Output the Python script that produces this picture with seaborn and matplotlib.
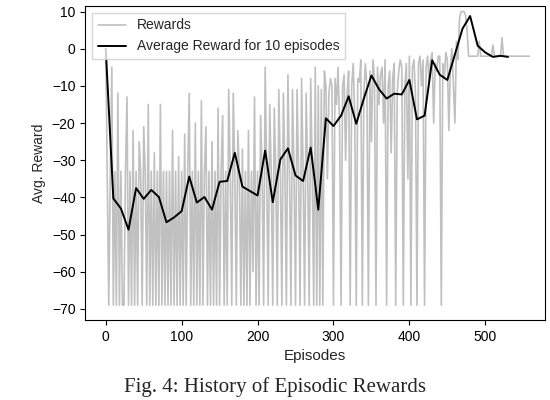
import numpy as np
import pandas as pd
import matplotlib
matplotlib.use("Agg")
import matplotlib.pyplot as plt
import seaborn as sns

# rewards, one value every 2 episodes
rewards = [
    0, -34, -69, -33, -5, -69, -33, -69, -12, -69,
    -33, -69, -69, -33, -13, -69, -33, -69, -22, -69,
    -33, -69, -25, -33, -69, -21, -33, -69, -15, -69,
    -33, -69, -28, -69, -33, -69, -15, -69, -33, -69,
    -33, -69, -33, -69, -22, -69, -33, -69, -29, -69,
    -33, -69, -23, -69, -33, -12, -69, -33, -69, -20,
    -69, -33, -69, -14, -69, -33, -21, -69, -33, -69,
    -25, -69, -33, -69, -16, -69, -33, -18, -69, -33,
    -69, -11, -33, -69, -12, -33, -69, -22, -33, -69,
    -27, -69, -33, -69, -22, -69, -33, -60, -13, -69,
    -33, -69, -18, -33, -69, -5, -33, -69, -15, -33,
    -69, -16, -33, -69, -11, -33, -69, -12, -33, -69,
    -7, -33, -69, -11, -33, -69, -11, -33, -69, -8,
    -33, -69, -12, -33, -69, -8, -33, -69, -5, -69,
    -10, -69, -11, -69, -6, -10, -35, -12, -8, -10,
    -69, -8, -15, -5, -20, -69, -10, -7, -30, -12,
    -6, -69, -10, -4, -18, -69, -8, -9, -3, -69,
    -12, -4, -10, -69, -6, -25, -3, -8, -69, -5,
    -15, -7, -5, -20, -3, -69, -10, -6, -28, -8,
    -4, -69, -12, -6, -3, -5, -69, -10, -4, -35,
    -2, -69, -5, -3, -12, -69, -4, -2, -10, -3,
    -69, -5, -2, -9, -3, -1, -20, -4, -6, -2,
    -2, -69, -4, -8, -1, -3, -22, -5, 0, -10,
    -20, 2, -3, 8, 10, 10, 10, 9, 5, -2,
    -2, -2, -2, -2, -2, -2, 2, -2, -2, -2,
    -2, -2, -2, -2, -2, 1, -2, -2, -2, -2,
    -2, 3, -2, -2, -2, -2, -2, -2, -2, -2,
    -2, -2, -2, -2, -2, -2, -2, -2, -2, -2,
]
reward_eps = np.arange(len(rewards)) * 2

# average over 10 episodes
avg_reward = [
    0, -40.3, -43, -48.7, -37.5, -40.4, -38, -39.9, -46.7, -45.4,
    -43.7, -34.4, -41.4, -39.9, -43.3, -35.8, -35.6, -28, -37.1, -38.3,
    -39.5, -27.4, -41.3, -29.8, -26.8, -34.1, -35.6, -26.6, -43.3, -18.7,
    -20.8, -18, -12.8, -20.2, -13.4, -7.2, -10.9, -13.4, -12.1, -12.3,
    -8.4, -19, -18, -3.1, -7, -8.4, -1.5, 5.4, 8.8, 0.8,
    -1, -2.2, -1.9, -2.2,
]
avg_eps = np.arange(len(avg_reward)) * 10

sns.set_style("ticks")
plt.rcParams['font.family'] = ['Liberation Sans', 'DejaVu Sans']
plt.rcParams['axes.edgecolor'] = 'black'
plt.rcParams['xtick.color'] = 'black'
plt.rcParams['ytick.color'] = 'black'

fig = plt.figure(figsize=(5.5, 4), dpi=100)
ax = fig.add_axes([0.155, 0.2, 0.835, 0.785])

sns.lineplot(x=reward_eps, y=rewards, ax=ax, color='#c0c0c0', linewidth=1.2, label='Rewards')
sns.lineplot(x=avg_eps, y=avg_reward, ax=ax, color='black', linewidth=1.4,
             label='Average Reward for 10 episodes')

ax.set_xlim(-27, 578)
ax.set_ylim(-73, 11.5)
ax.set_xticks(np.arange(0, 501, 100))
ax.set_yticks(np.arange(-70, 11, 10))
ax.tick_params(labelsize=10)
ax.set_xlabel('Episodes', fontsize=11)
ax.set_ylabel('Avg. Reward', fontsize=10)
ax.legend(loc='upper left', fontsize=10, frameon=True, fancybox=False)

fig.text(0.5, 0.008, 'Fig. 4: History of Episodic Rewards', ha='center', va='bottom',
         fontsize=15, family=['Liberation Serif', 'DejaVu Serif'])

fig.savefig('out.png', dpi=100)
